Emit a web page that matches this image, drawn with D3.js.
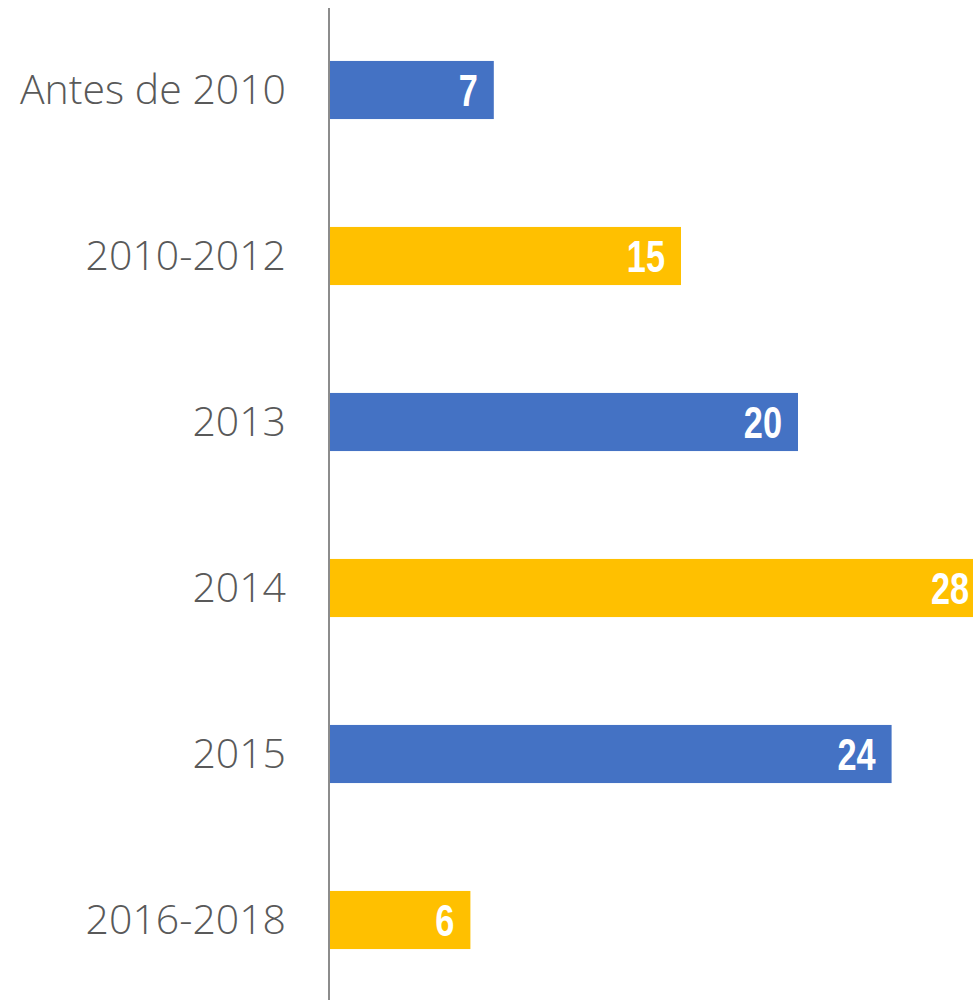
<!DOCTYPE html>
<html>
<head>
<meta charset="utf-8">
<script src="https://cdn.jsdelivr.net/npm/d3@7"></script>
<style>
  body { margin: 0; background: white; }
  svg { display: block; }
</style>
</head>
<body>
<div id="chart"></div>
<script>
const categories = ['Antes de 2010', '2010-2012', '2013', '2014', '2015', '2016-2018'];
const values = [7, 15, 20, 28, 24, 6];
const colors = ['#4472C4', '#FFC000', '#4472C4', '#FFC000', '#4472C4', '#FFC000'];

drawChart();

function drawChart() {
    const width = 973;
    const height = 1000;
    const axisX = 329;

    const svg = d3.select('#chart')
        .append('svg')
        .attr('width', width)
        .attr('height', height);

    const x = d3.scaleLinear()
        .domain([0, 28])
        .range([axisX + 1, axisX + 1 + 28 * 23.4]);

    const y = d3.scaleBand()
        .domain(categories)
        .range([7, 1003])
        .paddingInner(0.65)
        .paddingOuter(0.325);

    const rows = categories.map(function (c, i) {
        return { cat: c, value: values[i], color: colors[i] };
    });

    svg.append('g')
        .selectAll('rect')
        .data(rows)
        .enter()
        .append('rect')
        .attr('x', x(0))
        .attr('y', function (d) { return y(d.cat); })
        .attr('width', function (d) { return x(d.value) - x(0); })
        .attr('height', y.bandwidth())
        .attr('fill', function (d) { return d.color; });

    // value labels (condensed bold look)
    svg.append('g')
        .selectAll('text')
        .data(rows)
        .enter()
        .append('text')
        .attr('transform', function (d) {
            return 'translate(' + (x(d.value) - 16) + ',' + (y(d.cat) + y.bandwidth() / 2) + ') scale(0.78,1)';
        })
        .attr('dy', '0.36em')
        .attr('text-anchor', 'end')
        .attr('fill', 'white')
        .style('font-family', '"Liberation Sans", Arial, sans-serif')
        .style('font-weight', 'bold')
        .style('font-size', '44px')
        .text(function (d) { return d.value; });

    // category axis
    const axis = svg.append('g')
        .attr('transform', 'translate(' + axisX + ',0)')
        .call(d3.axisLeft(y).tickSize(0).tickPadding(43));

    axis.select('.domain').remove();
    axis.append('line')
        .attr('x1', 0).attr('x2', 0)
        .attr('y1', 8).attr('y2', height)
        .attr('stroke', '#8c8c8c')
        .attr('stroke-width', 2);

    axis.selectAll('.tick text')
        .attr('fill', '#595959')
        .attr('dy', '0.34em')
        .style('font-family', '"Open Sans", sans-serif')
        .style('font-weight', 300)
        .style('font-size', '41px');
}
</script>
</body>
</html>
